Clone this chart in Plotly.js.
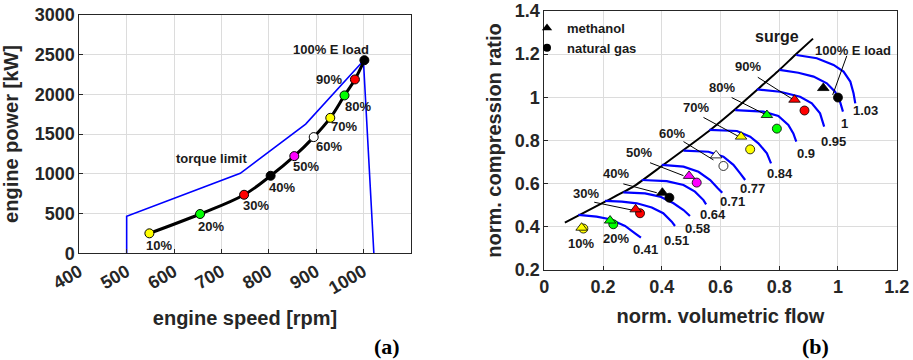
<!DOCTYPE html>
<html>
<head>
<meta charset="utf-8">
<script src="https://cdn.plot.ly/plotly-3.0.1.min.js"></script>
<style>html,body{margin:0;padding:0;background:#fff;}#chart{width:913px;height:360px;}</style>
</head>
<body>
<div id="chart"></div>
<script>
// ---------- (a) engine operating line ----------
const loadSpeed = [548, 655, 748, 804, 854, 895, 930, 960, 982, 1002];
const loadPower = [251, 494, 736, 975, 1222, 1461, 1703, 1985, 2186, 2428];
const loadColors = ['#ffff00', '#00ff00', '#ff0000', '#000000', '#ff00ff', '#ffffff', '#ffff00', '#00ff00', '#ff0000', '#000000'];
const loadLabels = ['10%', '20%', '30%', '40%', '50%', '60%', '70%', '80%', '90%', '100% E load'];
const loadLabelSpeed = [568, 678, 773, 828, 879, 928, 959, 988, 928, 932];
const loadLabelPower = [92, 343, 607, 833, 1097, 1339, 1590, 1850, 2186, 2563];
const torqueSpeed = [500, 500, 740, 878, 1000, 1022];
const torquePower = [0, 466, 1005, 1625, 2420, 0];
const torqueLabel = 'torque limit';
const torqueLabelPos = [680, 1193];
const xTicksA = [400, 500, 600, 700, 800, 900, 1000];
const yTicksA = [0, 500, 1000, 1500, 2000, 2500, 3000];

// ---------- (b) compressor map ----------
const surgeX = [0.070, 0.207, 0.303, 0.400, 0.474, 0.565, 0.644, 0.724, 0.803, 0.854, 0.915];
const surgeY = [0.419, 0.517, 0.586, 0.682, 0.756, 0.849, 0.938, 1.034, 1.130, 1.196, 1.272];
const speedNames = ['0.41', '0.51', '0.58', '0.64', '0.71', '0.77', '0.84', '0.9', '0.95', '1', '1.03'];
const speedX = [
  [0.116, 0.178, 0.224, 0.275, 0.309, 0.329],
  [0.207, 0.264, 0.315, 0.366, 0.405, 0.434, 0.445],
  [0.269, 0.343, 0.394, 0.440, 0.474, 0.496],
  [0.332, 0.417, 0.474, 0.513, 0.542, 0.551],
  [0.400, 0.474, 0.525, 0.565, 0.590, 0.606],
  [0.474, 0.559, 0.610, 0.644, 0.667, 0.684],
  [0.562, 0.656, 0.701, 0.729, 0.758, 0.772],
  [0.650, 0.746, 0.797, 0.831, 0.848, 0.858],
  [0.724, 0.803, 0.871, 0.911, 0.939, 0.953],
  [0.801, 0.865, 0.917, 0.962, 0.990, 1.007, 1.017],
  [0.858, 0.928, 0.985, 1.019, 1.042, 1.053, 1.059]
];
const speedY = [
  [0.455, 0.447, 0.435, 0.404, 0.370, 0.350],
  [0.520, 0.517, 0.509, 0.490, 0.463, 0.424, 0.404],
  [0.560, 0.555, 0.540, 0.509, 0.478, 0.450],
  [0.617, 0.612, 0.594, 0.563, 0.524, 0.504],
  [0.687, 0.679, 0.655, 0.617, 0.580, 0.558],
  [0.753, 0.748, 0.725, 0.687, 0.648, 0.617],
  [0.849, 0.844, 0.818, 0.787, 0.741, 0.694],
  [0.941, 0.934, 0.914, 0.872, 0.833, 0.795],
  [1.037, 1.026, 1.003, 0.972, 0.926, 0.864],
  [1.127, 1.114, 1.096, 1.065, 1.026, 0.980, 0.934],
  [1.196, 1.181, 1.150, 1.119, 1.073, 1.019, 0.972]
];
const speedLabelX = [0.343, 0.451, 0.522, 0.574, 0.642, 0.708, 0.803, 0.892, 0.985, 1.022, 1.093];
const speedLabelY = [0.296, 0.336, 0.393, 0.455, 0.517, 0.577, 0.648, 0.738, 0.796, 0.877, 0.938];
const methX = [0.127, 0.224, 0.311, 0.402, 0.493, 0.585, 0.670, 0.758, 0.852, 0.950];
const methY = [0.396, 0.429, 0.481, 0.558, 0.636, 0.731, 0.818, 0.918, 0.989, 1.043];
const ngX = [0.133, 0.235, 0.326, 0.426, 0.519, 0.610, 0.701, 0.792, 0.886, 1.000];
const ngY = [0.392, 0.412, 0.463, 0.535, 0.605, 0.682, 0.759, 0.855, 0.939, 0.999];
const mapLabelX = [0.124, 0.244, 0.142, 0.244, 0.324, 0.434, 0.516, 0.604, 0.695, 1.050];
const mapLabelY = [0.324, 0.344, 0.555, 0.645, 0.744, 0.833, 0.954, 1.045, 1.145, 1.216];
const leaderX = [0.170, 0.298, null, 0.269, 0.383, null, 0.360, 0.474, null, 0.474, 0.576, null,
                 0.542, 0.664, null, 0.638, 0.752, null, 0.727, 0.848, null, 1.030, 0.982];
const leaderY = [0.514, 0.478, null, 0.599, 0.558, null, 0.697, 0.637, null, 0.795, 0.710, null,
                 0.907, 0.817, null, 0.999, 0.921, null, 1.093, 0.989, null, 1.192, 1.011];
const surgeLabel = 'surge';
const surgeLabelPos = [0.792, 1.284];
const xTicksB = [0, 0.2, 0.4, 0.6, 0.8, 1, 1.2];
const yTicksB = [0.2, 0.4, 0.6, 0.8, 1, 1.2, 1.4];

const FONT = 'Arial, "Liberation Sans", sans-serif';
const TXT = '#1a1a1a';
const AX = '#262626';
const GRID = '#dcdcdc';

const traces = [];
// (a)
traces.push({x: torqueSpeed, y: torquePower, xaxis: 'x', yaxis: 'y', mode: 'lines',
  line: {color: '#0000ff', width: 1.6}, showlegend: false, hoverinfo: 'skip'});
traces.push({x: loadSpeed, y: loadPower, xaxis: 'x', yaxis: 'y', mode: 'lines+markers',
  line: {color: '#000000', width: 3, shape: 'spline', smoothing: 1.1},
  marker: {color: loadColors, size: 9, line: {color: '#000', width: 1}}, showlegend: false});
// (b)
traces.push({x: surgeX, y: surgeY, xaxis: 'x2', yaxis: 'y2', mode: 'lines',
  line: {color: '#000', width: 2, shape: 'spline', smoothing: 0.5}, showlegend: false});
for (let i = 0; i < speedNames.length; i++) {
  traces.push({x: speedX[i], y: speedY[i], xaxis: 'x2', yaxis: 'y2', mode: 'lines', name: speedNames[i],
    line: {color: '#0000ff', width: 2.2}, showlegend: false});
}
traces.push({x: leaderX, y: leaderY, xaxis: 'x2', yaxis: 'y2', mode: 'lines',
  line: {color: '#000', width: 1}, showlegend: false, connectgaps: false});
traces.push({x: ngX, y: ngY, xaxis: 'x2', yaxis: 'y2', mode: 'markers',
  marker: {symbol: 'circle', color: loadColors, size: 9, line: {color: '#000', width: 0.8}}, showlegend: false});
traces.push({x: methX, y: methY, xaxis: 'x2', yaxis: 'y2', mode: 'markers',
  marker: {symbol: 'triangle-up', color: loadColors, size: 10, line: {color: '#000', width: 0.8}}, showlegend: false});
// legend entries
traces.push({x: [null], y: [null], xaxis: 'x2', yaxis: 'y2', mode: 'markers', name: 'methanol',
  marker: {symbol: 'triangle-up', color: '#000', size: 9}});
traces.push({x: [null], y: [null], xaxis: 'x2', yaxis: 'y2', mode: 'markers', name: 'natural gas',
  marker: {symbol: 'circle', color: '#000', size: 8}});

const ann = [];
const lblFont = {family: FONT, size: 13, color: TXT, weight: 'bold'};
for (let i = 0; i < loadLabels.length; i++) {
  ann.push({x: loadLabelSpeed[i], y: loadLabelPower[i], xref: 'x', yref: 'y', text: loadLabels[i],
    showarrow: false, font: lblFont});
}
ann.push({x: torqueLabelPos[0], y: torqueLabelPos[1], xref: 'x', yref: 'y', text: torqueLabel, showarrow: false, font: lblFont});
for (let i = 0; i < loadLabels.length; i++) {
  ann.push({x: mapLabelX[i], y: mapLabelY[i], xref: 'x2', yref: 'y2', text: loadLabels[i],
    showarrow: false, font: lblFont});
}
for (let i = 0; i < speedNames.length; i++) {
  ann.push({x: speedLabelX[i], y: speedLabelY[i], xref: 'x2', yref: 'y2', text: speedNames[i],
    showarrow: false, font: lblFont});
}
ann.push({x: surgeLabelPos[0], y: surgeLabelPos[1], xref: 'x2', yref: 'y2', text: surgeLabel,
  showarrow: false, font: {family: FONT, size: 16, color: TXT, weight: 'bold'}});
const panelFont = {family: '"Liberation Serif", "Times New Roman", serif', size: 22, color: '#000', weight: 'bold'};
ann.push({x: 386.7 / 913, y: (360 - 346.5) / 360, xref: 'paper', yref: 'paper', xanchor: 'center', yanchor: 'middle',
  text: '(a)', showarrow: false, font: panelFont});
ann.push({x: 815 / 913, y: (360 - 346.5) / 360, xref: 'paper', yref: 'paper', xanchor: 'center', yanchor: 'middle',
  text: '(b)', showarrow: false, font: panelFont});

const tickFont = {family: FONT, size: 18, color: AX, weight: 'bold'};
const titleFont = {family: FONT, size: 20, color: AX, weight: 'bold'};
const axBase = {showline: true, mirror: true, linecolor: AX, linewidth: 1, showgrid: true, gridcolor: GRID,
  gridwidth: 1, ticks: 'inside', ticklen: 4, tickcolor: AX, zeroline: false, tickfont: tickFont, automargin: false};

const layout = {
  width: 913, height: 360,
  margin: {l: 0, r: 0, t: 0, b: 0},
  paper_bgcolor: '#fff', plot_bgcolor: '#fff',
  showlegend: true,
  legend: {x: 527 / 913, y: 1 - 13 / 360, xanchor: 'left', yanchor: 'top', bgcolor: 'rgba(0,0,0,0)',
    font: {family: FONT, size: 13, color: TXT, weight: 'bold'}, itemwidth: 30, tracegroupgap: 0},
  xaxis: Object.assign({}, axBase, {domain: [79.3 / 913, 410.8 / 913], anchor: 'y', range: [400, 1100],
    tickmode: 'array', tickvals: xTicksA, tickangle: -30,
    title: {text: 'engine speed [rpm]', font: titleFont, standoff: 13}}),
  yaxis: Object.assign({}, axBase, {domain: [(360 - 253.3) / 360, (360 - 14.7) / 360], anchor: 'x', range: [0, 3000],
    tickmode: 'array', tickvals: yTicksA,
    title: {text: 'engine power [kW]', font: titleFont, standoff: 12}}),
  xaxis2: Object.assign({}, axBase, {domain: [544.3 / 913, 896.7 / 913], anchor: 'y2', range: [0, 1.2],
    tickmode: 'array', tickvals: xTicksB,
    title: {text: 'norm. volumetric flow', font: titleFont, standoff: 13}}),
  yaxis2: Object.assign({}, axBase, {domain: [(360 - 270) / 360, (360 - 11) / 360], anchor: 'x2', range: [0.2, 1.4],
    tickmode: 'array', tickvals: yTicksB,
    title: {text: 'norm. compression ratio', font: titleFont, standoff: 7}}),
  annotations: ann
};

Plotly.newPlot('chart', traces, layout, {staticPlot: true, displayModeBar: false});
</script>
</body>
</html>
